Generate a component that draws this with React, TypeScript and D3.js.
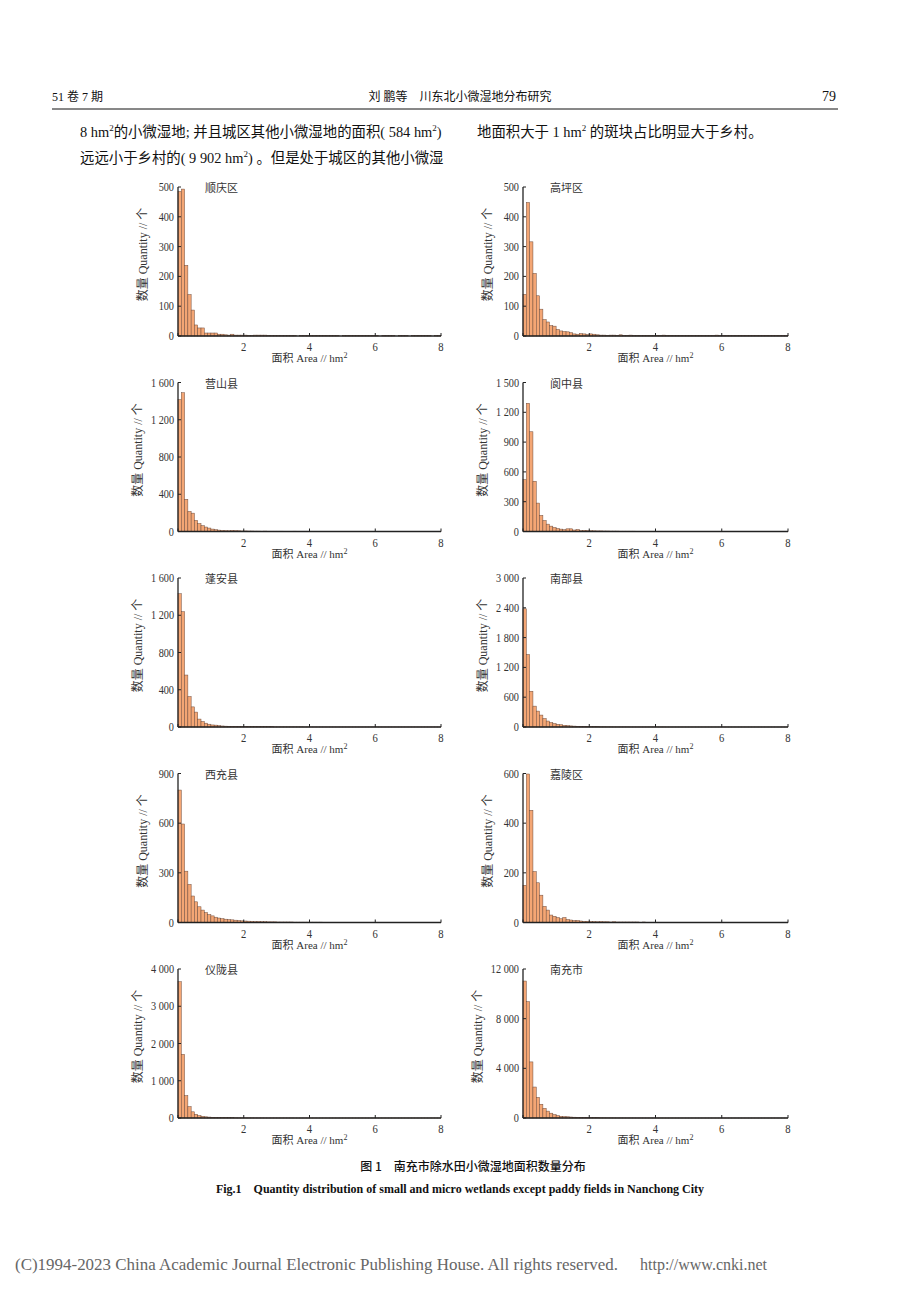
import React from "react";
import * as d3 from "d3";

// ---------- data (bin width 0.1 hm², 0–8 hm²) ----------
const binWidth = 0.1;

const shunqing = [485,493,237,139,87,37,27,27,10,10, 10,10,6,6,4,3,6,3,3,3, 3,2,1,3,3,3,3,2,1,2, 1,1,1,2,1,1,0,1,1,1, 1,1,1,1,2,1,1,1,1,0, 1,1,1,1,1,1,1,1,1,1, 1,0,1,1,1,1,0,1,1,1, 0,1,1,2,1,1,1,0,1,1];
const gaoping = [140,448,316,210,135,90,55,47,35,33, 22,17,15,14,11,7,6,8,7,5, 7,6,4,3,3,2,3,3,2,4, 2,2,3,2,2,1,2,2,2,1, 2,1,3,1,2,1,1,1,1,1, 2,1,1,2,1,1,1,1,3,1, 1,1,1,1,1,2,1,1,1,1, 1,1,1,2,1,1,1,1,1,1];
const yingshan = [1416,1490,346,215,197,119,85,63,48,37, 26,19,15,12,10,8,12,10,8,6, 6,5,5,4,4,3,4,3,3,3, 3,3,2,2,2,3,2,2,2,2, 2,2,2,1,2,2,1,2,1,1, 1,1,2,1,1,1,1,1,1,1, 1,1,1,1,1,1,1,1,1,1, 1,1,1,1,1,1,1,1,1,1];
const langzhong = [522,1291,1004,506,286,162,111,74,54,40, 30,24,18,27,27,15,20,10,12,10, 8,7,6,6,5,5,4,4,4,3, 3,3,3,3,2,2,2,2,2,2, 2,2,2,2,2,1,1,2,1,1, 1,1,1,1,1,1,1,1,1,1, 1,1,1,1,1,1,1,1,1,1, 1,1,1,1,1,1,1,1,1,1];
const pengan = [1431,1238,558,327,216,160,85,59,41,30, 22,20,15,11,9,8,7,6,5,5, 4,4,4,3,3,3,3,3,3,2, 2,2,2,2,2,2,2,2,1,1, 1,1,1,1,1,1,1,1,1,1, 1,1,1,1,1,1,1,1,1,1, 1,1,1,1,1,1,1,1,1,1, 1,1,1,1,1,1,1,1,1,1];
const nanbu = [2380,1460,720,420,320,240,170,120,90,70, 55,45,35,28,22,18,15,12,10,9, 8,7,6,5,5,4,4,3,3,3, 3,3,2,2,2,2,2,2,2,2, 2,2,2,1,1,1,1,1,1,1, 1,1,1,1,1,1,1,1,1,1, 1,1,1,1,1,1,1,1,1,1, 1,1,1,1,1,1,1,1,1,1];
const xichong = [800,595,310,230,160,125,95,75,60,48, 40,32,27,23,20,18,16,14,12,10, 9,8,7,6,6,5,5,4,4,4, 3,3,3,3,3,2,2,2,2,2, 2,2,2,2,1,1,1,1,1,1, 1,1,1,1,1,1,1,1,1,1, 1,1,1,1,1,1,1,1,1,1, 1,1,1,1,1,1,1,1,1,1];
const jialing = [150,598,452,205,160,110,65,50,30,25, 20,15,20,12,10,8,8,6,5,5, 4,4,3,4,3,3,2,3,2,2, 2,2,2,2,2,1,2,1,1,1, 1,1,1,1,1,1,1,1,1,1, 1,1,1,1,1,1,1,1,1,1, 1,1,1,1,1,1,1,1,1,1, 1,1,1,1,1,1,1,1,1,1];
const yilong = [3658,1709,600,305,166,100,65,46,32,25, 20,16,13,11,9,8,7,6,5,5, 4,4,4,3,3,3,2,2,2,2, 2,2,2,2,2,1,1,1,1,1, 1,1,1,1,1,1,1,1,1,1, 1,1,1,1,1,1,1,1,1,1, 1,1,1,1,1,1,1,1,1,1, 1,1,1,1,1,1,1,1,1,1];
const nanchong = [11030,9367,4517,2494,1663,1108,776,554,388,277, 194,140,118,98,80,65,55,45,40,35, 30,26,23,20,18,16,14,12,11,10, 9,8,8,7,6,6,5,5,5,4, 4,4,3,3,3,3,3,2,2,2, 2,2,2,2,2,2,2,1,1,1, 1,1,1,1,1,1,1,1,1,1, 1,1,1,1,1,1,1,1,1,1];

const panelNames = ["顺庆区", "高坪区", "营山县", "阆中县", "蓬安县", "南部县", "西充县", "嘉陵区", "仪陇县", "南充市"];
const panelData = [shunqing, gaoping, yingshan, langzhong, pengan, nanbu, xichong, jialing, yilong, nanchong];
const panelYTicks = [
  [0, 100, 200, 300, 400, 500],
  [0, 100, 200, 300, 400, 500],
  [0, 400, 800, 1200, 1600],
  [0, 300, 600, 900, 1200, 1500],
  [0, 400, 800, 1200, 1600],
  [0, 600, 1200, 1800, 2400, 3000],
  [0, 300, 600, 900],
  [0, 200, 400, 600],
  [0, 1000, 2000, 3000, 4000],
  [0, 4000, 8000, 12000],
];
const xTicks = [0, 2, 4, 6, 8];
const xDomain = [0, 8];

const fmt = (v: number) => d3.format(",")(v).replace(/,/g, " ");

const SERIF = "'Liberation Serif', 'Noto Sans CJK SC', serif";
const CJK = "'Noto Sans CJK SC', sans-serif";
const BAR_FILL = "#f4a674";
const BAR_STROKE = "#6e4c3c";
const AXIS = "#222";
const TXT = "#333";

function Panel({ idx }: { idx: number }) {
  const col = idx % 2;
  const row = Math.floor(idx / 2);
  const x0 = col === 0 ? 178 : 523;
  const x1 = col === 0 ? 441 : 788;
  const top = 187 + row * 195.5;
  const bottom = top + 149;
  const ticks = panelYTicks[idx];
  const data = panelData[idx];
  const maxTick = ticks[ticks.length - 1];
  const x = d3.scaleLinear().domain(xDomain).range([x0, x1]);
  const y = d3.scaleLinear().domain([0, maxTick]).range([bottom, top]);
  const labelCenter = maxTick >= 10000 ? x0 - 45 : maxTick >= 1000 ? x0 - 40 : x0 - 35;
  return (
    <g>
      {data.map((v, i) =>
        v > 0 ? (
          <rect
            key={i}
            x={x(i * binWidth)}
            y={y(v)}
            width={x((i + 1) * binWidth) - x(i * binWidth)}
            height={bottom - y(v)}
            fill={BAR_FILL}
            stroke={BAR_STROKE}
            strokeWidth={0.5}
          />
        ) : null
      )}
      <line x1={x0} x2={x0} y1={top} y2={bottom} stroke={AXIS} strokeWidth={1.3} />
      <line x1={x0} x2={x1} y1={bottom} y2={bottom} stroke={AXIS} strokeWidth={1.3} />
      {ticks.map((t) => (
        <g key={t}>
          <line x1={x0} x2={x0 + 3} y1={y(t)} y2={y(t)} stroke={AXIS} strokeWidth={1} />
          <text
            transform={`translate(${x0 - 4},${y(t) + 4}) scale(0.82,1)`}
            textAnchor="end"
            fontFamily={SERIF}
            fontSize={12.5}
            fill={TXT}
          >
            {fmt(t)}
          </text>
        </g>
      ))}
      {xTicks.map((t) => (
        <g key={t}>
          <line x1={x(t)} x2={x(t)} y1={bottom} y2={bottom - 3} stroke={AXIS} strokeWidth={1} />
          {t > 0 ? (
            <text
              transform={`translate(${x(t)},${bottom + 15}) scale(0.85,1)`}
              textAnchor="middle"
              fontFamily={SERIF}
              fontSize={12.5}
              fill={TXT}
            >
              {t}
            </text>
          ) : null}
        </g>
      ))}
      <text x={x0 + 27} y={top + 5} fontFamily={CJK} fontSize={11} fill={TXT}>
        {panelNames[idx]}
      </text>
      <text
        x={(x0 + x1) / 2}
        y={bottom + 26}
        textAnchor="middle"
        fontFamily={SERIF}
        fontSize={11}
        fill={TXT}
      >
        面积 Area // hm<tspan fontSize={8} dy={-4}>2</tspan>
      </text>
      <text
        transform={`translate(${labelCenter + 4},${(top + bottom) / 2 - 7}) rotate(-90)`}
        textAnchor="middle"
        fontFamily={SERIF}
        fontSize={12}
        fill={TXT}
      >
        数量 Quantity // 个
      </text>
    </g>
  );
}

export default function App() {
  return (
    <svg
      width={920}
      height={1302}
      style={{ position: "absolute", left: 0, top: 0, background: "#fff" }}
    >
      <rect x={0} y={0} width={920} height={1302} fill="#fff" />
      {/* header */}
      <text x={52} y={101} fontFamily={SERIF} fontSize={12} fill="#111">51 卷 7 期</text>
      <text x={460} y={101} textAnchor="middle" fontFamily={SERIF} fontSize={12} fill="#111">
        刘 鹏等　川东北小微湿地分布研究
      </text>
      <text x={836} y={101} textAnchor="end" fontFamily={SERIF} fontSize={14} fill="#111">79</text>
      <line x1={52} x2={838} y1={109} y2={109} stroke="#111" strokeWidth={1} />
      {/* body text */}
      <text x={80} y={137} fontFamily={SERIF} fontSize={14.4} fill="#111">
        8 hm<tspan fontSize={9} dy={-6}>2</tspan><tspan dy={6}>的小微湿地; 并且城区其他小微湿地的面积( 584 hm</tspan>
        <tspan fontSize={9} dy={-6}>2</tspan><tspan dy={6}>)</tspan>
      </text>
      <text x={80} y={163} fontFamily={SERIF} fontSize={14.4} fill="#111">
        远远小于乡村的( 9 902 hm<tspan fontSize={9} dy={-6}>2</tspan><tspan dy={6}>) 。但是处于城区的其他小微湿</tspan>
      </text>
      <text x={477} y={137} fontFamily={SERIF} fontSize={14.4} fill="#111">
        地面积大于 1 hm<tspan fontSize={9} dy={-6}>2</tspan><tspan dy={6}> 的斑块占比明显大于乡村。</tspan>
      </text>
      {panelNames.map((_, i) => (
        <Panel key={i} idx={i} />
      ))}
      {/* caption */}
      <text x={473} y={1171} textAnchor="middle" fontFamily={CJK} fontSize={12} fontWeight={500} fill="#111">
        图 1　南充市除水田小微湿地面积数量分布
      </text>
      <text x={460} y={1193} textAnchor="middle" fontFamily={SERIF} fontSize={12} fontWeight="bold" fill="#111">
        Fig.1　Quantity distribution of small and micro wetlands except paddy fields in Nanchong City
      </text>
      {/* footer */}
      <text x={15} y={1270} fontFamily={SERIF} fontSize={17} fill="#666" textLength={603} lengthAdjust="spacingAndGlyphs">
        (C)1994-2023 China Academic Journal Electronic Publishing House. All rights reserved.
      </text>
      <text x={640} y={1270} fontFamily={SERIF} fontSize={17} fill="#666" textLength={127} lengthAdjust="spacingAndGlyphs">
        http://www.cnki.net
      </text>
    </svg>
  );
}
